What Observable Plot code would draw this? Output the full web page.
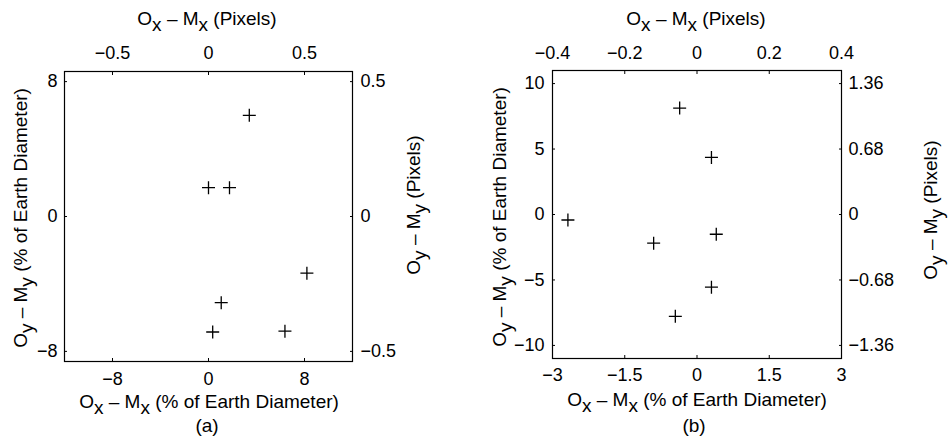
<!DOCTYPE html>
<html>
<head>
<meta charset="utf-8">
<script src="https://cdn.jsdelivr.net/npm/d3@7"></script>
<script src="https://cdn.jsdelivr.net/npm/@observablehq/plot@0.6"></script>
<style>
  html, body { margin: 0; padding: 0; background: #fff; }
  #wrap { display: flex; width: 952px; height: 447px; }
  svg { font-family: "Liberation Sans", Arial, Helvetica, sans-serif; }
</style>
</head>
<body>
<div id="wrap"></div>
<script>
// ---- Panel (a) data ----
const xA = [3.4, 0.0, 1.75, 8.2, 1.06, 0.35, 6.37];
const yA = [6.0, 1.71, 1.71, -3.36, -5.11, -6.85, -6.8];
const xTicksA = [-8, 0, 8];
const xTickLabelsA = ["−8", "0", "8"];
const topTickLabelsA = ["−0.5", "0", "0.5"];
const yTicksA = [-8, 0, 8];
const yTickLabelsA = ["−8", "0", "8"];
const rightTickLabelsA = ["−0.5", "0", "0.5"];

// ---- Panel (b) data ----
const xB = [-0.36, 0.30, -2.68, 0.40, -0.90, 0.30, -0.45];
const yB = [8.13, 4.36, -0.42, -1.51, -2.19, -5.55, -7.78];
const xTicksB = [-3, -1.5, 0, 1.5, 3];
const xTickLabelsB = ["−3", "−1.5", "0", "1.5", "3"];
const topTickLabelsB = ["−0.4", "−0.2", "0", "0.2", "0.4"];
const yTicksB = [-10, -5, 0, 5, 10];
const yTickLabelsB = ["−10", "−5", "0", "5", "10"];
const rightTickLabelsB = ["−1.36", "−0.68", "0", "0.68", "1.36"];

const plusSymbol = {
  draw(context, size) {
    const r = Math.sqrt(size / Math.PI);
    context.moveTo(-r, 0); context.lineTo(r, 0);
    context.moveTo(0, -r); context.lineTo(0, r);
  }
};

function lookup(ticks, labels) {
  const m = new Map(ticks.map((t, i) => [t, labels[i]]));
  return d => m.get(d);
}

function addLabel(svg, {x, y, rotate = 0, parts, anchor = "middle"}) {
  const t = svg.append("text")
    .attr("transform", `translate(${x},${y}) rotate(${rotate})`)
    .attr("text-anchor", anchor)
    .attr("font-size", 19)
    .attr("fill", "black");
  let sub = false;
  for (const [s, isSub] of parts) {
    const ts = t.append("tspan").text(s);
    if (isSub && !sub) { ts.attr("dy", 6); sub = true; }
    else if (!isSub && sub) { ts.attr("dy", -6); sub = false; }
  }
}

function panel(cfg) {
  const data = cfg.xs.map((x, i) => ({x, y: cfg.ys[i]}));
  const fs = 18;
  const chart = Plot.plot({
    width: 476,
    height: 447,
    marginLeft: cfg.m[0], marginRight: cfg.m[1], marginTop: cfg.m[2], marginBottom: cfg.m[3],
    style: {color: "black", fontSize: fs + "px", fontFamily: "'Liberation Sans', Arial, sans-serif", background: "white"},
    x: {domain: cfg.xDomain},
    y: {domain: cfg.yDomain},
    marks: [
      Plot.frame({stroke: "black", strokeWidth: 1.2}),
      Plot.axisX(cfg.xTicks, {anchor: "bottom", label: null, tickSize: -3, tickPadding: cfg.off[0] + 3, tickFormat: lookup(cfg.xTicks, cfg.xLabels), fontSize: fs}),
      Plot.axisX(cfg.xTicks, {anchor: "top", label: null, tickSize: -3, tickPadding: cfg.off[1] + 3, tickFormat: lookup(cfg.xTicks, cfg.topLabels), fontSize: fs}),
      Plot.axisY(cfg.yTicks, {anchor: "left", label: null, tickSize: -3, tickPadding: cfg.off[2] + 3, tickFormat: lookup(cfg.yTicks, cfg.yLabels), fontSize: fs}),
      Plot.axisY(cfg.yTicks, {anchor: "right", label: null, tickSize: -3, tickPadding: cfg.off[3] + 3, tickFormat: lookup(cfg.yTicks, cfg.rightLabels), fontSize: fs}),
      Plot.dot(data, {x: "x", y: "y", symbol: plusSymbol, r: 6.5, stroke: "black", fill: "none", strokeWidth: 1.3})
    ]
  });
  const svg = d3.select(chart);
  const L = cfg.labels;
  addLabel(svg, {x: L.top[0], y: L.top[1], parts: [["O", false], ["x", true], [" – M", false], ["x", true], [" (Pixels)", false]]});
  addLabel(svg, {x: L.bottom[0], y: L.bottom[1], parts: [["O", false], ["x", true], [" – M", false], ["x", true], [" (% of Earth Diameter)", false]]});
  addLabel(svg, {x: L.left[0], y: L.left[1], rotate: -90, parts: [["O", false], ["y", true], [" – M", false], ["y", true], [" (% of Earth Diameter)", false]]});
  addLabel(svg, {x: L.right[0], y: L.right[1], rotate: -90, parts: [["O", false], ["y", true], [" – M", false], ["y", true], [" (Pixels)", false]]});
  addLabel(svg, {x: L.cap[0], y: L.cap[1], parts: [[cfg.caption, false]]});
  return chart;
}

const wrap = document.getElementById("wrap");
wrap.appendChild(panel({
  xs: xA, ys: yA,
  xDomain: [-12, 12], yDomain: [-8.6, 8.6],
  m: [64, 124, 71, 86],
  off: [11, 13, 7, 8],
  xTicks: xTicksA, xLabels: xTickLabelsA, topLabels: topTickLabelsA,
  yTicks: yTicksA, yLabels: yTickLabelsA, rightLabels: rightTickLabelsA,
  caption: "(a)",
  labels: {top: [207, 25], bottom: [209, 408], left: [27, 218], right: [420, 205], cap: [207, 432]}
}));
wrap.appendChild(panel({
  xs: xB, ys: yB,
  xDomain: [-3, 3], yDomain: [-11, 11],
  m: [76, 111, 70, 89],
  off: [10, 12, 8, 7],
  xTicks: xTicksB, xLabels: xTickLabelsB, topLabels: topTickLabelsB,
  yTicks: yTicksB, yLabels: yTickLabelsB, rightLabels: rightTickLabelsB,
  caption: "(b)",
  labels: {top: [220, 25], bottom: [221, 406], left: [30, 217], right: [461, 210], cap: [218, 432]}
}));
</script>
</body>
</html>
